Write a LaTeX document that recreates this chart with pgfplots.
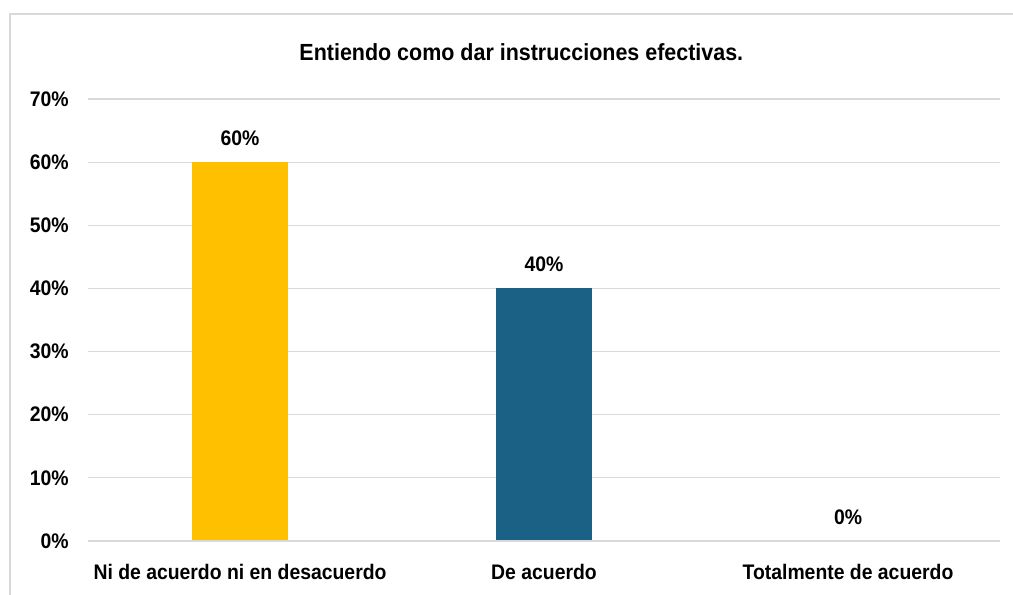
\documentclass[border=0pt]{standalone}
\usepackage{fontspec}
\setmainfont{Liberation Sans}[FakeStretch=0.92]
\usepackage{pgfplots}
\pgfplotsset{compat=1.18}
\definecolor{barYellow}{HTML}{FFC000}
\definecolor{barBlue}{HTML}{1A6185}
\definecolor{gridGray}{HTML}{D9D9D9}
\begin{document}
\begin{tikzpicture}
\useasboundingbox (0,0) rectangle (759.75pt,446.25pt);
% chart area border (only left and top visible)
\draw[gridGray, line width=1.2pt] (7.5pt,0) -- (7.5pt,435.75pt) -- (759.75pt,435.75pt);
\node[font=\fontsize{17.5}{20}\selectfont\bfseries] at (391pt,407pt) {Entiendo como dar instrucciones efectivas.};
\begin{axis}[
    at={(66pt,40.5pt)},
    anchor=south west,
    scale only axis,
    width=684pt,
    height=331.5pt,
    ybar,
    bar width=72pt,
    bar shift=0pt,
    xmin=-0.5, xmax=2.5,
    ymin=0, ymax=70,
    ytick={0,10,...,70},
    xtick={0,1,2},
    xticklabels={Ni de acuerdo ni en desacuerdo,De acuerdo,Totalmente de acuerdo},
    yticklabel={\pgfmathprintnumber{\tick}\%},
    major tick length=0pt,
    axis line style={draw=none},
    ymajorgrids,
    grid style={gridGray, line width=0.9pt},
    tick label style={font=\fontsize{15.8}{18}\selectfont\bfseries},
    yticklabel style={xshift=-11pt},
    xticklabel style={yshift=-14pt},
    /pgf/number format/assume math mode=true,
    nodes near coords={\pgfmathprintnumber{\pgfplotspointmeta}\%},
    nodes near coords style={font=\fontsize{15.8}{18}\selectfont\bfseries, anchor=south, inner sep=0pt, yshift=12pt, text=black},
    clip=false,
]
\addplot[fill=barYellow, draw=none] coordinates {(0,60)};
\addplot[fill=barBlue, draw=none] coordinates {(1,40)};
\addplot[fill=barBlue, draw=none] coordinates {(2,0)};
\draw[gridGray, line width=0.9pt] (axis cs:-0.5,0) -- (axis cs:2.5,0);
\end{axis}
\end{tikzpicture}
\end{document}
